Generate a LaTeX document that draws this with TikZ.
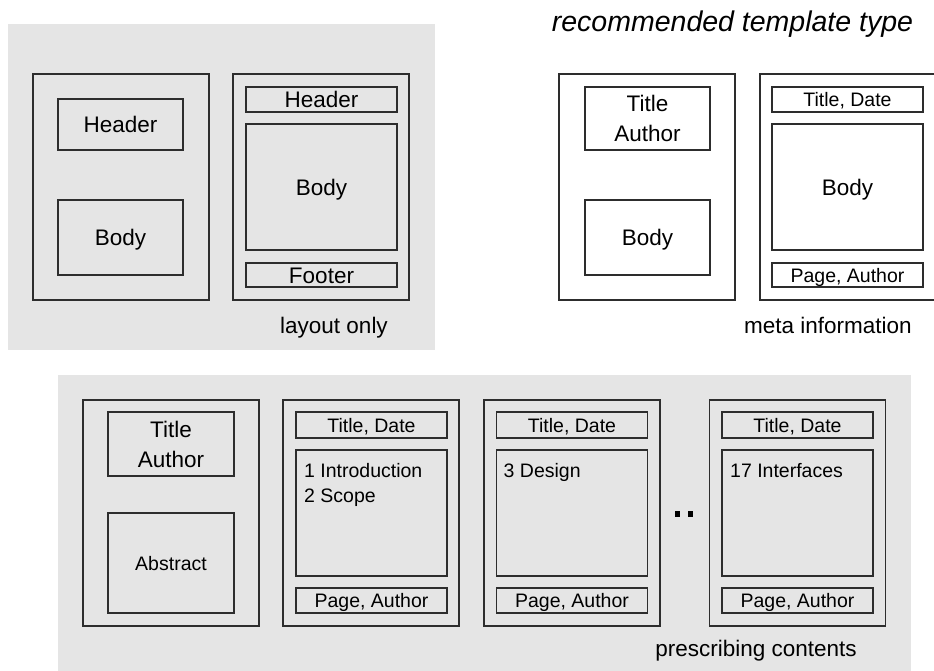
\documentclass[tikz,border=0pt]{standalone}
\usepackage{fontspec}
\setmainfont{Liberation Sans}
\definecolor{panelgray}{RGB}{229,229,229}
\definecolor{linegray}{RGB}{45,45,45}
\tikzset{
  big/.style={font=\fontsize{22.5}{30}\selectfont},
  small/.style={font=\fontsize{19.5}{25}\selectfont},
  capb/.style={big, text height=16.1pt, text depth=0pt},
  caps/.style={small, text height=14pt, text depth=0pt},
  frame/.style={draw=linegray, line width=1.1pt, inner sep=0pt, outer sep=0pt},
  pagebox/.style={frame, minimum width=176pt, minimum height=226pt},
  wide/.style={frame, minimum width=151pt},
  narrow/.style={frame, minimum width=125pt},
  toc/.style={small, anchor=north west, align=left, inner sep=0pt},
  caption/.style={big, anchor=base},
  dot/.style={fill=black, inner sep=0pt, minimum width=5pt, minimum height=6pt}
}
\begin{document}
\begin{tikzpicture}[x=1pt,y=-1pt]
\useasboundingbox (0,0) rectangle (934,671);
% panels
\fill[panelgray] (8,24) rectangle (435,350);
\fill[panelgray] (58,375) rectangle (911,671);

\node[font=\fontsize{28.5}{34}\selectfont\itshape, anchor=base] (title) at (732.5,31.7) {recommended template type};

% ---- layout only ----
\node[pagebox] (p1) at (121,187) {};
\node[narrow, minimum height=51pt, capb] (p1h) at (120.5,124.5) {Header};
\node[narrow, minimum height=75pt, capb] (p1b) at (120.5,237.5) {Body};

\node[pagebox] (p2) at (321,187) {};
\node[wide, minimum height=25pt, capb] (p2h) at (321.5,99.5) {Header};
\node[wide, minimum height=126pt, capb] (p2b) at (321.5,187) {Body};
\node[wide, minimum height=24pt, capb] (p2f) at (321.5,275) {Footer};
\node[caption] (c1) at (334,333) {layout only};

% ---- meta information ----
\node[pagebox] (p3) at (647,187) {};
\node[narrow, minimum height=63pt, big, align=center] (p3t) at (647.5,118.5) {Title\\Author};
\node[narrow, minimum height=75pt, capb] (p3b) at (647.5,237.5) {Body};

\node[pagebox] (p4) at (848,187) {};
\node[wide, minimum height=25pt, caps] (p4t) at (847.5,99.5) {Title, Date};
\node[wide, minimum height=126pt, capb] (p4b) at (847.5,187) {Body};
\node[wide, minimum height=24pt, caps] (p4f) at (847.5,275) {Page, Author};
\node[caption] (c2) at (828,333) {meta information};

% ---- prescribing contents ----
\node[pagebox] (pa) at (171,513) {};
\node[frame, minimum width=126pt, minimum height=64pt, big, align=center] (pat) at (171,444) {Title\\Author};
\node[frame, minimum width=126pt, minimum height=100pt, caps] (paa) at (171,563) {Abstract};

\node[pagebox] (pb) at (371,513) {};
\node[wide, minimum height=26pt, caps] (pbt) at (371.5,425) {Title, Date};
\node[wide, minimum height=126pt] (pbb) at (371.5,513) {};
\node[wide, minimum height=25pt, caps] (pbf) at (371.5,600.5) {Page, Author};
\node[toc] (pbx) at ([xshift=8pt,yshift=-13pt]pbb.north west) {1 Introduction\\2 Scope};

\node[pagebox] (pc) at (572,513) {};
\node[wide, minimum height=26pt, caps] (pct) at (572,425) {Title, Date};
\node[wide, minimum height=126pt] (pcb) at (572,513) {};
\node[wide, minimum height=25pt, caps] (pcf) at (572,600.5) {Page, Author};
\node[toc] (pcx) at ([xshift=7pt,yshift=-13pt]pcb.north west) {3 Design};

\node[dot] (d1) at (677,514) {};
\node[dot] (d2) at (690,514) {};

\node[pagebox] (pd) at (797.5,513) {};
\node[wide, minimum height=26pt, caps] (pdt) at (797.5,425) {Title, Date};
\node[wide, minimum height=126pt] (pdb) at (797.5,513) {};
\node[wide, minimum height=25pt, caps] (pdf) at (797.5,600.5) {Page, Author};
\node[toc] (pdx) at ([xshift=8pt,yshift=-13pt]pdb.north west) {17 Interfaces};
\node[caption] (c3) at (756,656.7) {prescribing contents};
\end{tikzpicture}
\end{document}
